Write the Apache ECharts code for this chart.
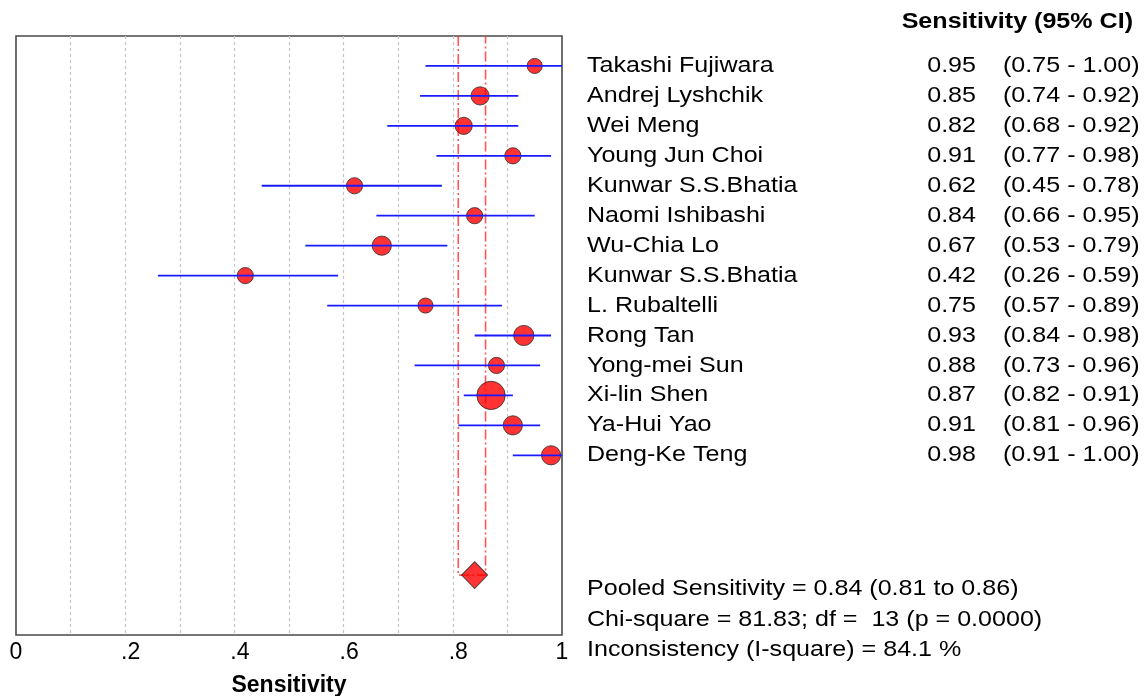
<!DOCTYPE html>
<html>
<head>
<meta charset="utf-8">
<script src="https://cdn.jsdelivr.net/npm/echarts@6/dist/echarts.min.js"></script>
<style>
  html, body { margin: 0; padding: 0; background: #fff; }
  #chart { width: 1146px; height: 696px; }
</style>
</head>
<body>
<div id="chart"></div>
<script>
// Study-level sensitivity estimates with 95% confidence intervals
const studies = [
  'Takashi Fujiwara', 'Andrej Lyshchik', 'Wei Meng', 'Young Jun Choi',
  'Kunwar S.S.Bhatia', 'Naomi Ishibashi', 'Wu-Chia Lo', 'Kunwar S.S.Bhatia',
  'L. Rubaltelli', 'Rong Tan', 'Yong-mei Sun', 'Xi-lin Shen', 'Ya-Hui Yao', 'Deng-Ke Teng'
];
const sensitivity = [0.95, 0.85, 0.82, 0.91, 0.62, 0.84, 0.67, 0.42, 0.75, 0.93, 0.88, 0.87, 0.91, 0.98];
const ciLow  = [0.75, 0.74, 0.68, 0.77, 0.45, 0.66, 0.53, 0.26, 0.57, 0.84, 0.73, 0.82, 0.81, 0.91];
const ciHigh = [1.00, 0.92, 0.92, 0.98, 0.78, 0.95, 0.79, 0.59, 0.89, 0.98, 0.96, 0.91, 0.96, 1.00];
// relative study weights (marker area)
const weights = [5.6, 8.1, 7.2, 6.4, 6.4, 6.4, 9.0, 6.4, 5.6, 10.0, 6.4, 19.6, 9.0, 9.0];

// pooled estimate
const pooled = { est: 0.84, low: 0.81, high: 0.86 };
const pooledRow = 18;
const xTicks = [0, 0.2, 0.4, 0.6, 0.8, 1];
const tableHeader = 'Sensitivity (95% CI)';
const statsText = [
  'Pooled Sensitivity = 0.84 (0.81 to 0.86)',
  'Chi-square = 81.83; df =  13 (p = 0.0000)',
  'Inconsistency (I-square) = 84.1 %'
];

const FONT = '"Liberation Sans", Arial, sans-serif';
const WIDE = 1.14;   // horizontal stretch of the table text
const rows = studies.map((_, i) => i + 1);
const fmt = v => v.toFixed(2);

const chart = echarts.init(document.getElementById('chart'), null, { renderer: 'canvas' });

chart.setOption({
  animation: false,
  backgroundColor: '#ffffff',
  textStyle: { fontFamily: FONT },
  grid: {
    left: 16, right: 584, top: 36, bottom: 61,
    outerBoundsMode: 'none', containLabel: false,
    show: true, borderColor: '#4a4a4a', borderWidth: 1.6, backgroundColor: 'transparent'
  },
  xAxis: {
    type: 'value', min: 0, max: 1, interval: 0.1,
    name: 'Sensitivity', nameLocation: 'middle', nameGap: 39,
    nameTextStyle: { fontFamily: FONT, fontSize: 23, fontWeight: 'bold', color: '#000' },
    axisLine: { show: false },
    axisTick: { show: false },
    axisLabel: {
      margin: 6, fontFamily: FONT, fontSize: 23, color: '#000',
      formatter: v => {
        const t = Math.round(v * 10);
        if (!xTicks.some(x => Math.round(x * 10) === t)) return '';
        if (t === 0) return '0';
        if (t === 10) return '1';
        return '{d|.' + t + '}';
      },
      rich: { d: { fontFamily: FONT, fontSize: 23, color: '#000', padding: [0, 0, 0, 11] } }
    },
    splitLine: {
      show: true, showMinLine: false, showMaxLine: false,
      lineStyle: { color: '#c4c4c4', type: [3, 3], width: 1.2 }
    }
  },
  yAxis: {
    type: 'value', min: 0, max: 20, inverse: true, show: false,
    splitLine: { show: false }
  },
  series: [
    {
      // pooled confidence band boundaries
      type: 'line',
      data: [[pooled.low, 0], [pooled.low, pooledRow], [pooled.high, pooledRow], [pooled.high, 0]],
      symbol: 'none',
      lineStyle: { color: '#ff3a3a', width: 1.6, type: [10, 3, 2, 3], opacity: 0.85 },
      z: 2, silent: true
    },
    {
      type: 'scatter',
      data: sensitivity.map((v, i) => ({ value: [v, rows[i]], symbolSize: Math.sqrt(weights[i]) * 6.4 })),
      itemStyle: { color: '#ff0000', borderColor: '#2a2a2a', borderWidth: 1 },
      z: 3
    },
    {
      // confidence intervals drawn over the markers
      type: 'custom',
      data: ciLow.map((lo, i) => [lo, ciHigh[i], rows[i]]),
      renderItem: (params, api) => {
        const a = api.coord([api.value(0), api.value(2)]);
        const b = api.coord([api.value(1), api.value(2)]);
        return {
          type: 'line',
          shape: { x1: a[0], y1: a[1], x2: b[0], y2: b[1] },
          style: { stroke: '#1a1aff', lineWidth: 1.8 }
        };
      },
      encode: { x: [0, 1], y: 2 },
      z: 4, clip: false
    },
    {
      type: 'scatter',
      data: [[pooled.est, pooledRow]],
      symbol: 'diamond', symbolSize: [26, 27],
      itemStyle: { color: '#ff0000', borderColor: '#2a2a2a', borderWidth: 1 },
      z: 5
    }
  ]
});

// Study table to the right of the plot, one line per row of the y scale
const nameX = 587, valueRight = 976, ciX = 1003;
const txt = (x, y, text, align, font) => ({
  type: 'text', x: x, y: y, scaleX: WIDE, silent: true,
  style: { x: 0, y: 0, text: text, font: font || ('22px ' + FONT), fill: '#000',
           textAlign: align, textVerticalAlign: 'middle' }
});
const graphics = [];
studies.forEach((s, i) => {
  const y = chart.convertToPixel({ gridIndex: 0 }, [1, rows[i]])[1];
  graphics.push(txt(nameX, y, s, 'left'));
  graphics.push(txt(valueRight, y, fmt(sensitivity[i]), 'right'));
  graphics.push(txt(ciX, y, '(' + fmt(ciLow[i]) + ' - ' + fmt(ciHigh[i]) + ')', 'left'));
});
graphics.push(txt(1133, 22, tableHeader, 'right', 'bold 22px ' + FONT));
statsText.forEach((t, k) => {
  graphics.push(txt(nameX, 589 + k * 30.5, t, 'left'));
});
chart.setOption({ graphic: graphics });
</script>
</body>
</html>
